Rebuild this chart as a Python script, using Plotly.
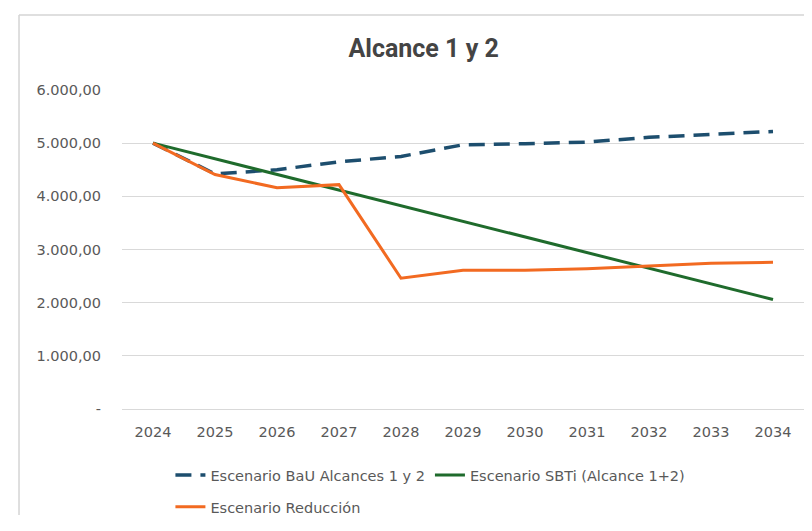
import plotly.graph_objects as go

years = ["2024", "2025", "2026", "2027", "2028", "2029", "2030", "2031", "2032", "2033", "2034"]
bau = [5000, 4420, 4500, 4650, 4750, 4970, 4990, 5020, 5110, 5170, 5220]
sbti = [5000, 4706, 4412, 4118, 3824, 3530, 3236, 2942, 2648, 2354, 2060]
reduccion = [5000, 4410, 4160, 4220, 2460, 2610, 2610, 2640, 2690, 2740, 2760]

y_tickvals = [0, 1000, 2000, 3000, 4000, 5000, 6000]
y_ticktext = ["-", "1.000,00", "2.000,00", "3.000,00", "4.000,00", "5.000,00", "6.000,00"]

gray = "#595959"
tfont = "DejaVu Sans, sans-serif"

fig = go.Figure()
fig.add_trace(go.Scatter(x=years, y=bau, mode="lines", name="Escenario BaU Alcances 1 y 2",
                         line=dict(color="#1d4e6e", width=3.5, dash="16px,9px"), legend="legend"))
fig.add_trace(go.Scatter(x=years, y=sbti, mode="lines", name="Escenario SBTi (Alcance 1+2)",
                         line=dict(color="#1f6b2c", width=3), legend="legend"))
fig.add_trace(go.Scatter(x=years, y=reduccion, mode="lines", name="Escenario Reducción",
                         line=dict(color="#f26a21", width=3), legend="legend2"))

fig.update_layout(
    width=804, height=523,
    margin=dict(l=114, r=8, t=82, b=122),
    paper_bgcolor="white", plot_bgcolor="white",
    font=dict(family=tfont, color=gray, size=14.5),
    title=dict(text="Alcance 1 y 2", x=0.517, xanchor="center", y=0.9235, yanchor="middle",
               font=dict(size=25, color="#444444", family="Roboto, sans-serif", weight="bold")),
    xaxis=dict(type="category", range=[-0.5, 10.5], showgrid=False, showline=False, zeroline=False,
               tickfont=dict(size=14.5, color=gray, family=tfont), ticks="", ticklabelstandoff=12),
    yaxis=dict(range=[0, 6000], tickvals=y_tickvals, ticktext=y_ticktext,
               showgrid=True, gridcolor="#d9d9d9", gridwidth=1, zeroline=True,
               zerolinecolor="#d9d9d9", zerolinewidth=1, showline=False,
               tickfont=dict(size=14.5, color=gray, family=tfont), ticks="", ticklabelstandoff=20),
    legend=dict(orientation="h", xref="paper", x=0.071, xanchor="left",
                yref="container", y=0.107, yanchor="middle",
                font=dict(size=14.5, color=gray, family=tfont), bgcolor="rgba(0,0,0,0)"),
    legend2=dict(orientation="h", xref="paper", x=0.071, xanchor="left",
                 yref="container", y=0.046, yanchor="middle",
                 font=dict(size=14.5, color=gray, family=tfont), bgcolor="rgba(0,0,0,0)"),
    showlegend=True,
)

# chart frame (top and left edges)
fig.add_shape(type="line", xref="paper", yref="paper", x0=-0.151, x1=1.02, y0=1.235, y1=1.235,
              line=dict(color="#d4d4d4", width=1.5), layer="below")
fig.add_shape(type="line", xref="paper", yref="paper", x0=-0.151, x1=-0.151, y0=1.235, y1=-0.332,
              line=dict(color="#d4d4d4", width=1.5), layer="below")

fig.write_html("out.html")
